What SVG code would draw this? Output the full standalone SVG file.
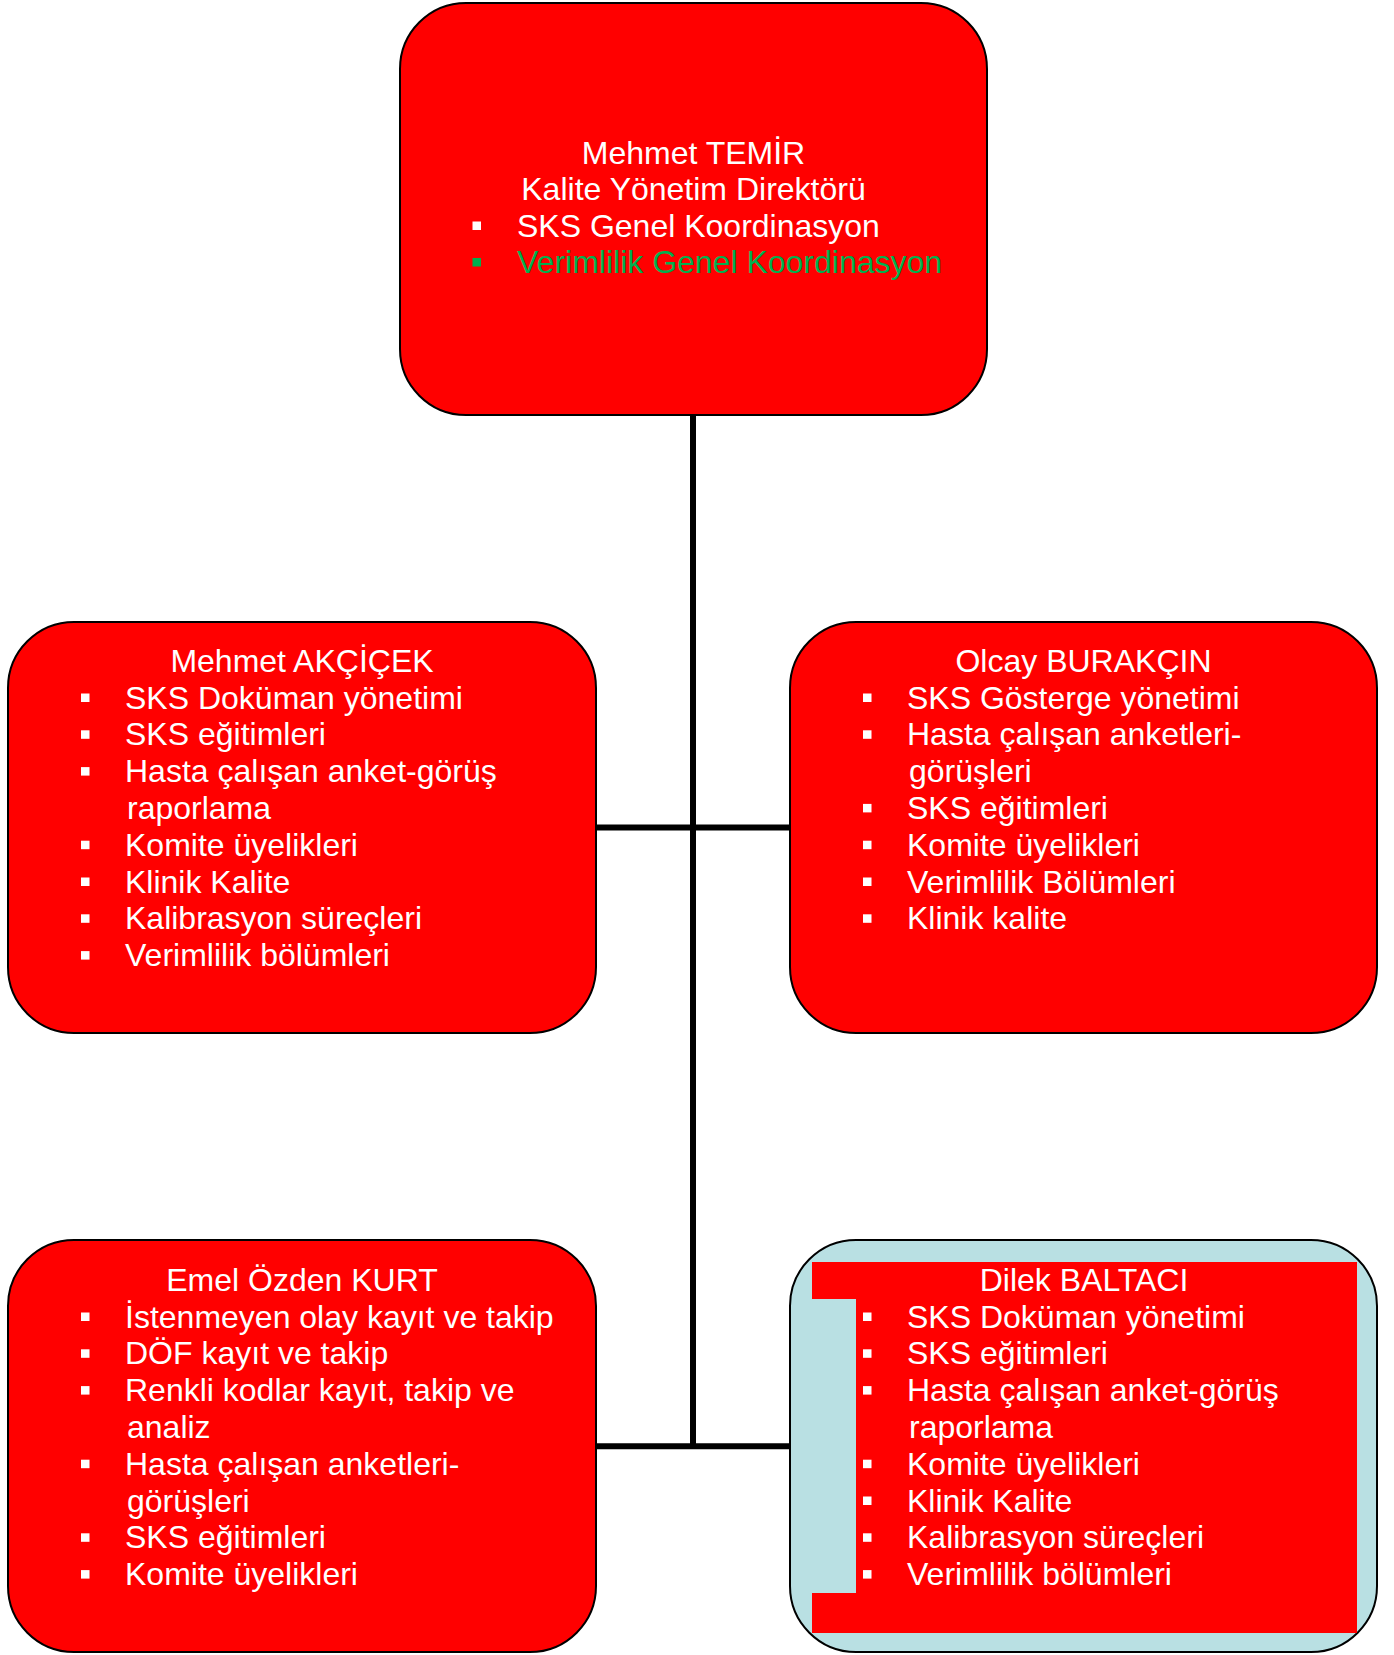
<svg xmlns="http://www.w3.org/2000/svg" width="1394" height="1655" viewBox="0 0 1394 1655">
<style>
.box{fill:#FF0000;stroke:#000;stroke-width:2}
.blue{fill:#B9E0E3;stroke:#000;stroke-width:2}
.t{font-family:"Liberation Sans",Arial,sans-serif;font-size:32px;fill:#FFFFFF}
.m{text-anchor:middle}
.g{fill:#00B050}
.b{fill:#FFFFFF}
.c{stroke:#000;stroke-width:6;fill:none}
</style>
<rect width="1394" height="1655" fill="#FFFFFF"/>
<g id="connectors">
<line class="c" x1="693" y1="414" x2="693" y2="1449"/>
<line class="c" x1="596" y1="827.5" x2="790" y2="827.5"/>
<line class="c" x1="596" y1="1446.3" x2="790" y2="1446.3"/>
</g>
<g id="node-top">
<rect class="box" x="400" y="3" width="587" height="412" rx="66" ry="66"/>
<text class="t m" x="693.5" y="163.5">Mehmet TEMİR</text>
<text class="t m" x="693.5" y="200">Kalite Yönetim Direktörü</text>
<rect class="b" x="472.5" y="221.5" width="8.5" height="8.5"/>
<text class="t" x="517" y="236.5">SKS Genel Koordinasyon</text>
<rect class="g" x="472.5" y="258" width="8.5" height="8.5"/>
<text class="t g" x="517" y="273">Verimlilik Genel Koordinasyon</text>
</g>
<g id="node-akcicek">
<rect class="box" x="8" y="622" width="588" height="411" rx="66" ry="66"/>
<text class="t m" x="302" y="672">Mehmet AKÇİÇEK</text>
<rect class="b" x="81" y="693.5" width="8.5" height="8.5"/>
<text class="t" x="125" y="708.5">SKS Doküman yönetimi</text>
<rect class="b" x="81" y="730.3" width="8.5" height="8.5"/>
<text class="t" x="125" y="745.3">SKS eğitimleri</text>
<rect class="b" x="81" y="767.1" width="8.5" height="8.5"/>
<text class="t" x="125" y="782.1">Hasta çalışan anket-görüş</text>
<text class="t" x="127" y="818.9">raporlama</text>
<rect class="b" x="81" y="840.7" width="8.5" height="8.5"/>
<text class="t" x="125" y="855.7">Komite üyelikleri</text>
<rect class="b" x="81" y="877.5" width="8.5" height="8.5"/>
<text class="t" x="125" y="892.5">Klinik Kalite</text>
<rect class="b" x="81" y="914.3" width="8.5" height="8.5"/>
<text class="t" x="125" y="929.3">Kalibrasyon süreçleri</text>
<rect class="b" x="81" y="951.1" width="8.5" height="8.5"/>
<text class="t" x="125" y="966.1">Verimlilik bölümleri</text>
</g>
<g id="node-burakcin">
<rect class="box" x="790" y="622" width="587" height="411" rx="66" ry="66"/>
<text class="t m" x="1083.5" y="672">Olcay BURAKÇIN</text>
<rect class="b" x="863" y="693.5" width="8.5" height="8.5"/>
<text class="t" x="907" y="708.5">SKS Gösterge yönetimi</text>
<rect class="b" x="863" y="730.3" width="8.5" height="8.5"/>
<text class="t" x="907" y="745.3">Hasta çalışan anketleri-</text>
<text class="t" x="909" y="782.1">görüşleri</text>
<rect class="b" x="863" y="803.9" width="8.5" height="8.5"/>
<text class="t" x="907" y="818.9">SKS eğitimleri</text>
<rect class="b" x="863" y="840.7" width="8.5" height="8.5"/>
<text class="t" x="907" y="855.7">Komite üyelikleri</text>
<rect class="b" x="863" y="877.5" width="8.5" height="8.5"/>
<text class="t" x="907" y="892.5">Verimlilik Bölümleri</text>
<rect class="b" x="863" y="914.3" width="8.5" height="8.5"/>
<text class="t" x="907" y="929.3">Klinik kalite</text>
</g>
<g id="node-kurt">
<rect class="box" x="8" y="1240" width="588" height="412" rx="66" ry="66"/>
<text class="t m" x="302" y="1290.7">Emel Özden KURT</text>
<rect class="b" x="81" y="1312.5" width="8.5" height="8.5"/>
<text class="t" x="125" y="1327.5">İstenmeyen olay kayıt ve takip</text>
<rect class="b" x="81" y="1349.3" width="8.5" height="8.5"/>
<text class="t" x="125" y="1364.3">DÖF kayıt ve takip</text>
<rect class="b" x="81" y="1386.1" width="8.5" height="8.5"/>
<text class="t" x="125" y="1401.1">Renkli kodlar kayıt, takip ve</text>
<text class="t" x="127" y="1437.9">analiz</text>
<rect class="b" x="81" y="1459.7" width="8.5" height="8.5"/>
<text class="t" x="125" y="1474.7">Hasta çalışan anketleri-</text>
<text class="t" x="127" y="1511.5">görüşleri</text>
<rect class="b" x="81" y="1533.3" width="8.5" height="8.5"/>
<text class="t" x="125" y="1548.3">SKS eğitimleri</text>
<rect class="b" x="81" y="1570.1" width="8.5" height="8.5"/>
<text class="t" x="125" y="1585.1">Komite üyelikleri</text>
</g>
<g id="node-baltaci">
<rect class="blue" x="790" y="1240" width="587" height="412" rx="66" ry="66"/>
<polygon fill="#FF0000" points="812,1262 1357,1262 1357,1633 812,1633 812,1593 856,1593 856,1299 812,1299"/>
<text class="t m" x="1084" y="1290.7">Dilek BALTACI</text>
<rect class="b" x="863" y="1312.5" width="8.5" height="8.5"/>
<text class="t" x="907" y="1327.5">SKS Doküman yönetimi</text>
<rect class="b" x="863" y="1349.3" width="8.5" height="8.5"/>
<text class="t" x="907" y="1364.3">SKS eğitimleri</text>
<rect class="b" x="863" y="1386.1" width="8.5" height="8.5"/>
<text class="t" x="907" y="1401.1">Hasta çalışan anket-görüş</text>
<text class="t" x="909" y="1437.9">raporlama</text>
<rect class="b" x="863" y="1459.7" width="8.5" height="8.5"/>
<text class="t" x="907" y="1474.7">Komite üyelikleri</text>
<rect class="b" x="863" y="1496.5" width="8.5" height="8.5"/>
<text class="t" x="907" y="1511.5">Klinik Kalite</text>
<rect class="b" x="863" y="1533.3" width="8.5" height="8.5"/>
<text class="t" x="907" y="1548.3">Kalibrasyon süreçleri</text>
<rect class="b" x="863" y="1570.1" width="8.5" height="8.5"/>
<text class="t" x="907" y="1585.1">Verimlilik bölümleri</text>
</g>
</svg>
